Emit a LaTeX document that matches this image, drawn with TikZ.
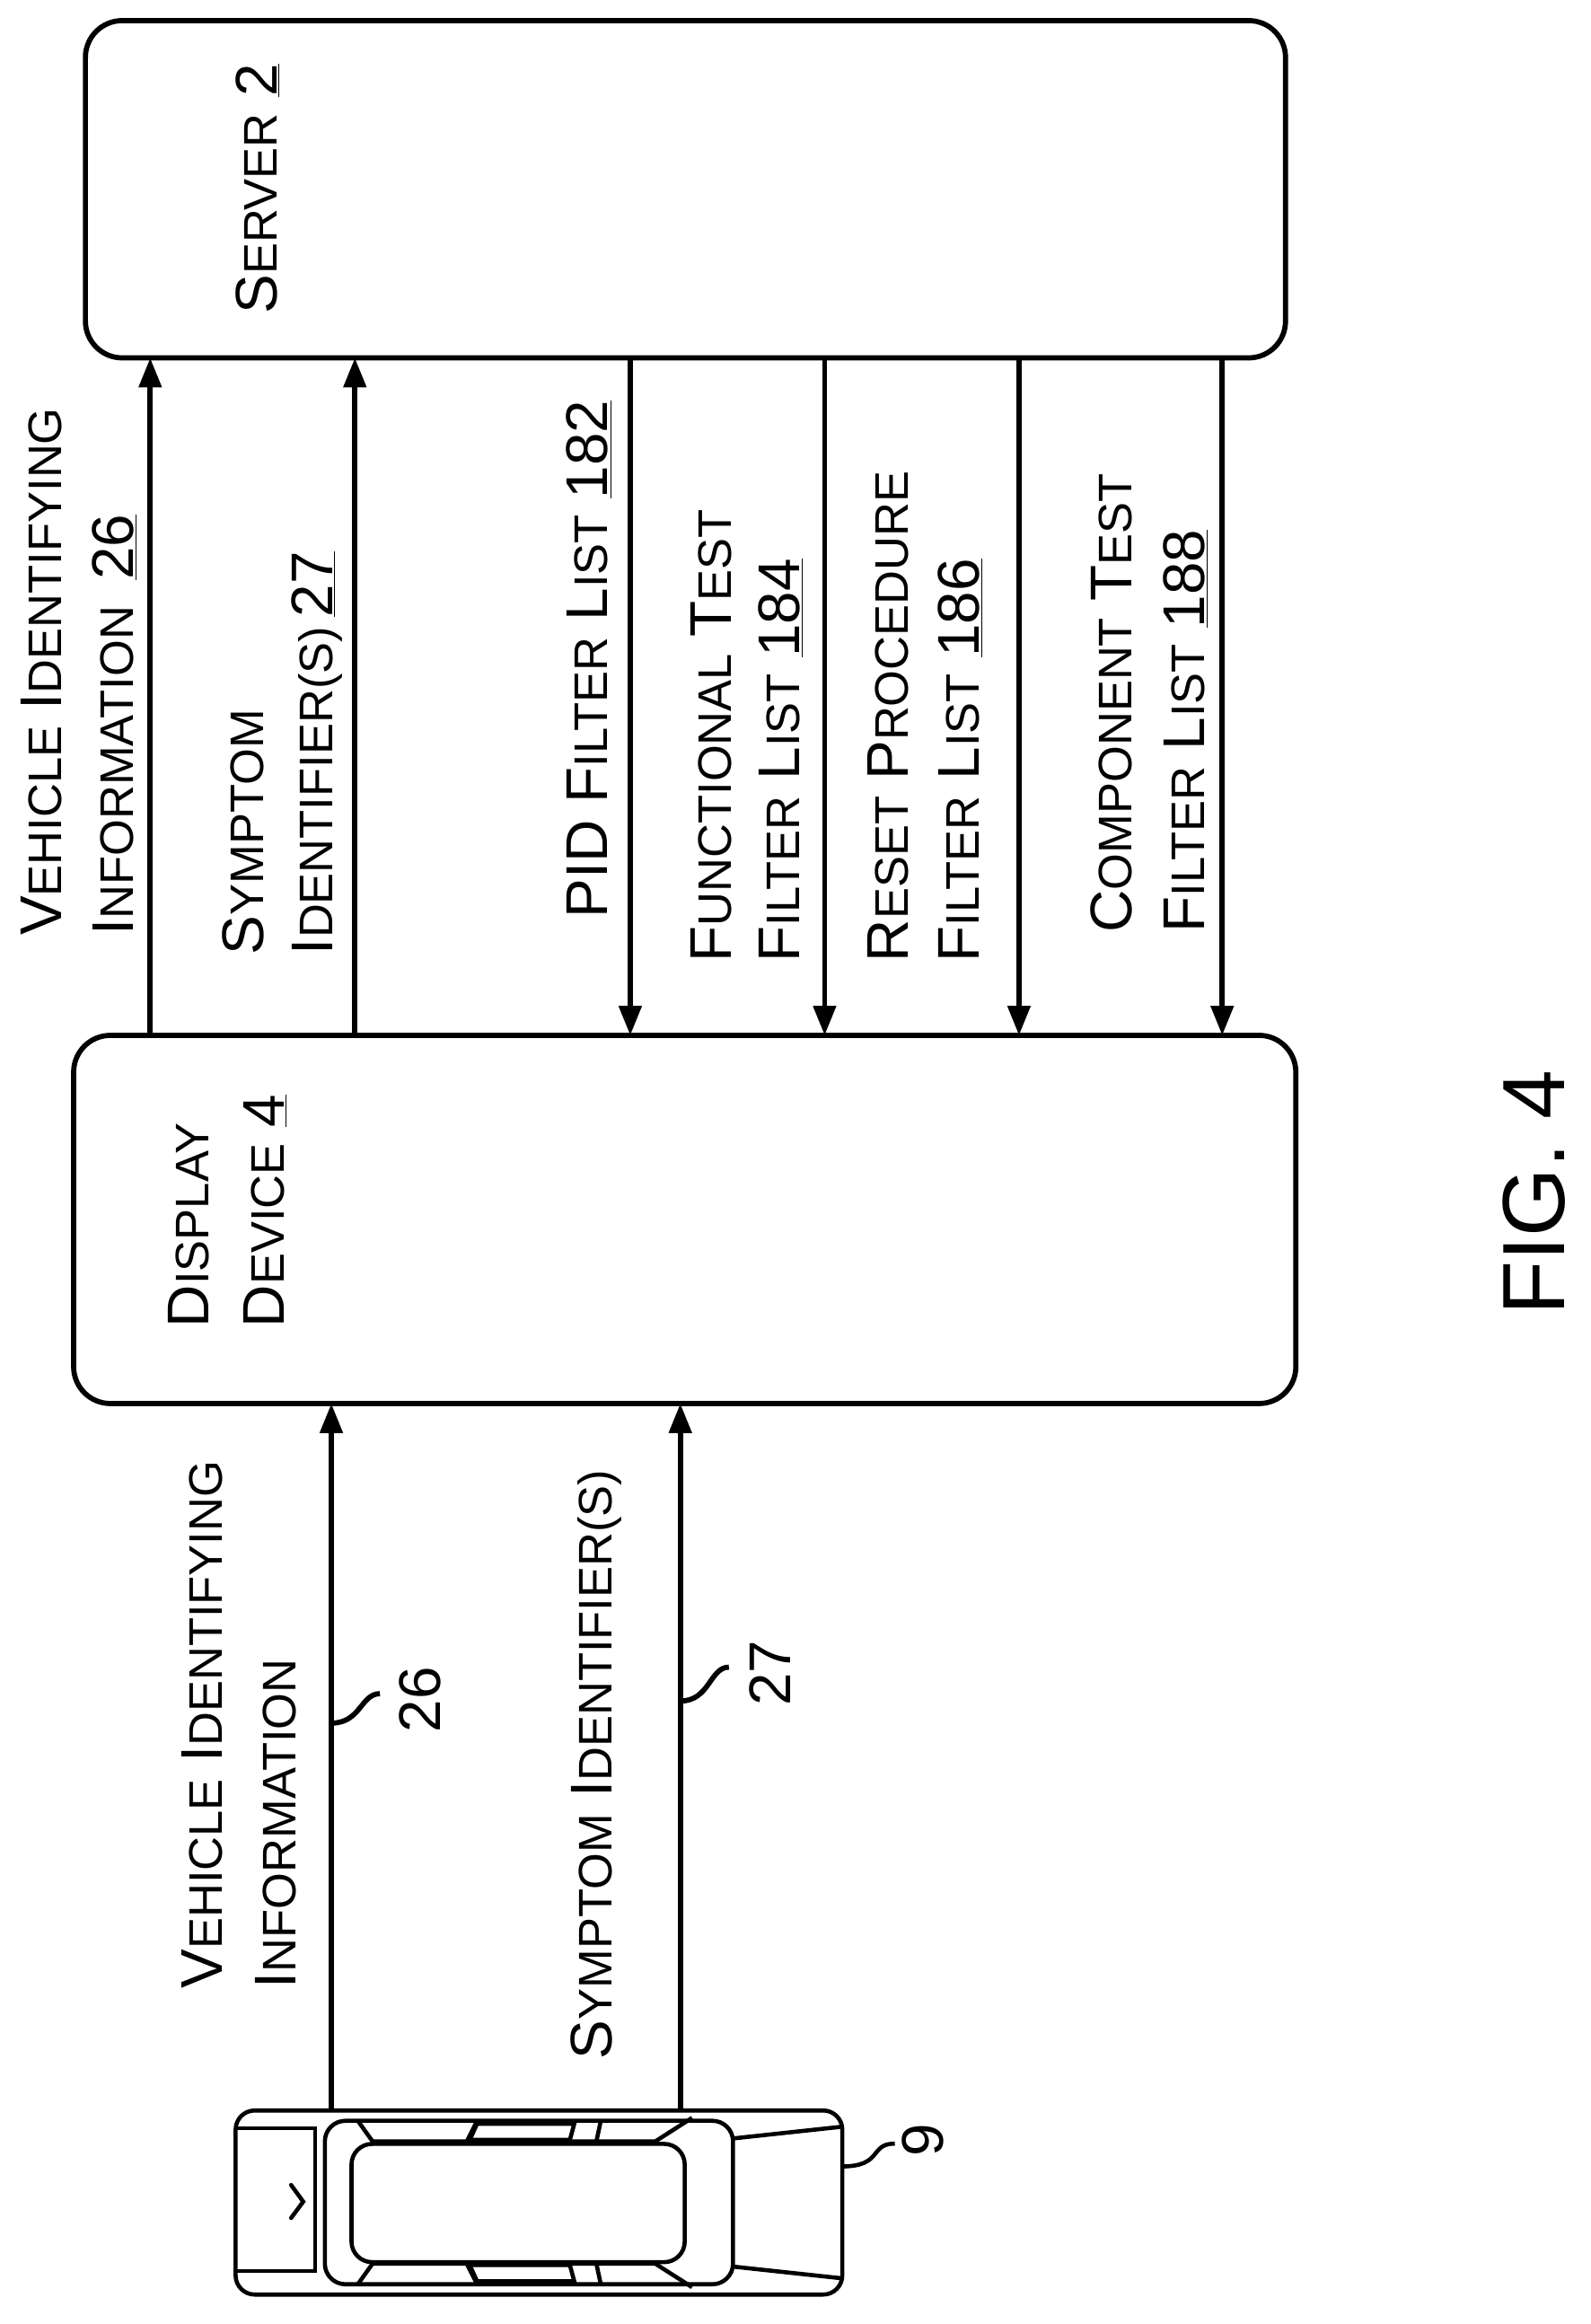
\documentclass[tikz,border=0pt]{standalone}
\usepackage{fontspec}
\setmainfont{Liberation Sans}
\usetikzlibrary{arrows.meta}
\newcommand\SC[2]{#1{\fontsize{32}{32}\selectfont #2}}
\newcommand\SM[1]{{\fontsize{32}{32}\selectfont #1}}
\begin{document}
\begin{tikzpicture}[x=1pt,y=-1pt,line width=3.5pt,
  lbl/.style={rotate=90,anchor=west,inner sep=0pt,font=\fontsize{40}{40}\selectfont},
  arr/.style={-{Triangle[length=20pt,width=15pt]}},
  box/.style={draw,rounded corners=25pt}]
\useasboundingbox (0,0) rectangle (1080,1578);
% boxes
\draw[box] (58,14) rectangle (873,243);
\draw[box] (50,703) rectangle (880,953);
\node[lbl] at (175,215) {\SC{S}{ERVER} \underline{2}};
\node[lbl] at (128,903) {\SC{D}{ISPLAY}};
\node[lbl] at (180,903) {\SC{D}{EVICE} \underline{4}};
% top arrows
\draw[arr] (102,703) -- (102,243);
\draw[arr] (241,703) -- (241,243);
\foreach \x in {428,560,692,830} \draw[arr] (\x,243) -- (\x,703);
\node[lbl] at (28,637) {\SC{V}{EHICLE} \SC{I}{DENTIFYING}};
\node[lbl] at (78,637) {\SC{I}{NFORMATION} \,\underline{26}};
\node[lbl] at (165,650) {\SC{S}{YMPTOM}};
\node[lbl] at (215,650) {\SC{I}{DENTIFIER}\SM{(S)}\,\underline{27}};
\node[lbl] at (400,625) {PID \SC{F}{ILTER} \SC{L}{IST} \underline{182}};
\node[lbl] at (483,655) {\SC{F}{UNCTIONAL} \SC{T}{EST}};
\node[lbl] at (530,655) {\SC{F}{ILTER} \SC{L}{IST} \underline{184}};
\node[lbl] at (603,655) {\SC{R}{ESET} \SC{P}{ROCEDURE}};
\node[lbl] at (652,655) {\SC{F}{ILTER} \SC{L}{IST} \underline{186}};
\node[lbl] at (755,635) {\SC{C}{OMPONENT} \SC{T}{EST}};
\node[lbl] at (805,635) {\SC{F}{ILTER} \SC{L}{IST} \underline{188}};
% bottom arrows
\draw[arr] (225,1433) -- (225,953);
\draw[arr] (462,1433) -- (462,953);
\node[lbl] at (137,1352) {\SC{V}{EHICLE} \SC{I}{DENTIFYING}};
\node[lbl] at (187,1352) {\SC{I}{NFORMATION}};
\node[lbl] at (405,1400) {\SC{S}{YMPTOM} \SC{I}{DENTIFIER}\SM{(S)}};
\draw (225,1170) .. controls (245,1170) and (245,1150) .. (258,1150);
\node[lbl] at (285,1178) {26};
\draw (462,1155) .. controls (482,1155) and (482,1132) .. (495,1132);
\node[lbl] at (523,1160) {27};
\node[lbl,font=\fontsize{60}{60}\selectfont] at (1042,895) {FIG. 4};
% car
\begin{scope}[line width=2.8pt]
\draw[rounded corners=13pt] (160,1433) rectangle (572,1558);
\draw (161,1445) -- (214,1445) -- (214,1542) -- (161,1542);
\draw[line cap=round] (197.7,1483.6) -- (205.9,1494.9) -- (197.7,1506);
\draw[rounded corners=14pt] (220.6,1440) rectangle (497.8,1551);
\draw[rounded corners=14pt] (238.7,1455.7) rectangle (465,1536);
\draw (243,1440) -- (253,1454);
\draw (253,1454) -- (445,1454) -- (470,1438);
\draw (324,1440) -- (317,1454);
\draw (408,1440) -- (405,1454);
\draw (324,1442) -- (390,1442) -- (387,1453) -- (319,1453) -- cycle;
\draw (243,1551) -- (253,1537);
\draw (253,1537) -- (445,1537) -- (470,1553);
\draw (324,1551) -- (317,1537);
\draw (408,1551) -- (405,1537);
\draw (324,1549) -- (390,1549) -- (387,1538) -- (319,1538) -- cycle;
\draw (497.8,1452) -- (572,1444);
\draw (497.8,1539) -- (572,1547);
\draw (571.6,1471) .. controls (600,1471) and (590,1455.5) .. (607.7,1455.5);
\end{scope}
\node[lbl] at (627,1466) {9};
\end{tikzpicture}
\end{document}
